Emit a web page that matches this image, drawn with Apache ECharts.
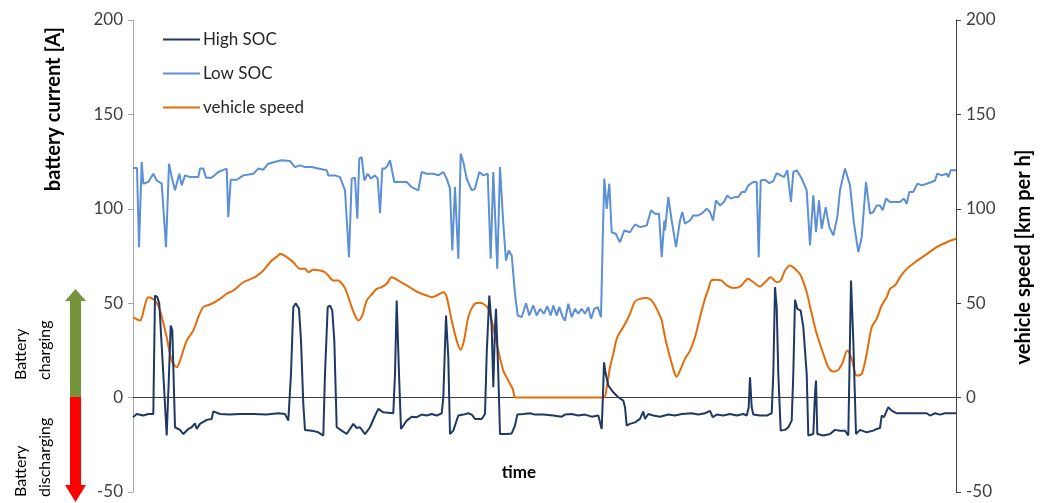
<!DOCTYPE html>
<html>
<head>
<meta charset="utf-8">
<script src="https://cdn.jsdelivr.net/npm/echarts@6/dist/echarts.min.js"></script>
<style>html,body{margin:0;padding:0;background:#fff}#c{width:1043px;height:503px}</style>
</head>
<body>
<div id="c"></div>
<script>
// ---- data (time in arbitrary units) ----
const seriesNames = ['High SOC', 'Low SOC', 'vehicle speed'];
const currentTicks = [-50, 0, 50, 100, 150, 200];

const highSocTime = [0,3.7,10.3,15.3,20.3,22,24.3,26.3,28,30.3,33.7,36,37.7,39.3,42,47,50.3,55.3,58.7,62,63.7,67,73.7,78.7,80.3,87,97,107,120.3,133.7,145.3,152,155.3,158,160.3,162.7,166,168,170.3,172,178.7,185.3,190.3,192,194.7,197,199.3,201.3,203.7,208.7,213.7,220.3,223.7,227,232,237,241.3,245.3,250.3,260.3,262,263.7,266,268,273.7,278.7,283.7,288.7,293.7,298.7,303.7,308.7,310.3,313,315.3,317,320.3,325.3,330.3,335.3,338.7,342,348.7,352,353.7,356.3,358.7,360.3,362,363,365.3,367,373.7,378.7,382,384.3,390.3,397,402,410.3,420.3,428.7,432,438.7,445.3,452,458.7,465.3,467.3,468.7,470,471,472.7,475.3,480.3,485.3,490.3,492,493.7,497,502,507,510.3,512,515.3,520.3,527,535.3,542,548.7,558.7,565.3,572,577,579.7,583.7,590.3,597,603.7,610.3,613.7,615.7,617,618.7,620.3,627,633.7,638.7,640.3,642,643.7,645.3,647.7,652,655.3,658.7,660.3,662,664.3,667.7,670.3,673.7,675.3,680.3,682,683,684.3,690.3,697,702,707,712,715.3,718,720.3,723,727,733.7,740.3,743.7,747,748.7,751,753,755.3,758.7,763.7,773.7,783.7,793.7,797,802,807,812,823];
const highSocValue = [-10.4,-8.7,-9.5,-8.7,-8.7,54.1,53.2,49.7,49.7,12.6,-20.1,12.6,38.2,35.5,-15.7,-17.1,-19.3,-16.6,-15.7,-13.6,-16.6,-13.9,-11.8,-11.3,-7.3,-8.7,-9,-8.7,-8.7,-9,-8.3,-8.7,-12.2,12.6,47.9,50,47,30.2,-3.4,-17.1,-17.5,-18.4,-20.1,12.6,47.9,48.8,46.1,30.2,-15.7,-17.5,-19.3,-13.9,-16.1,-15.7,-19.3,-15.7,-10.4,-6,-7.8,-8.3,12.6,51.4,12.6,-16.6,-12.2,-10.1,-10.4,-9,-9.5,-8.7,-9.5,-8.3,0,43.5,21.4,-19.3,-17.5,-9.5,-9,-8.3,-9,-11.3,-11.3,-8.7,23.2,54.1,37.3,5.5,37.3,47,12.6,-19.3,-19.3,-19,-14.8,-9,-8.7,-8.3,-9,-9,-9.5,-10.1,-9,-8.7,-9.5,-9,-10.1,-9.5,-10.4,-16.6,1.9,18.7,12.6,6.4,2.8,0.2,-1.6,-5.1,-14.8,-13.9,-13.1,-11.3,-7.3,-11.3,-8.7,-9.5,-10.1,-9,-9.5,-8.7,-8.3,-9,-8.3,-7,-10.4,-9,-9.5,-8.7,-9.5,-8.7,-9.5,-5.1,10.8,-5.1,-9,-9.5,-9.5,-8.3,12.6,58.5,47.9,12.6,-17.5,-17.1,-15.7,-12.2,12.6,51.8,47,46.1,37.3,12.6,-20.1,-19.3,1.9,9,-19.3,-20.1,-19.3,-17.1,-17.5,-17.5,-20.1,62,30.2,-19.3,-17.1,-18.4,-17.5,-16.6,-16.1,-9.5,-10.4,-7.8,-5.1,-6.9,-8.3,-8.3,-8.3,-8.3,-9.5,-8.3,-9,-8.3,-8.3];

const lowSocTime = [0,4,6,8.7,10.3,15.3,20.3,23.7,28.7,33,36,38.7,42,46.3,48.7,52,57,65.3,67,70.3,73,78.7,85.3,93.7,95.3,97.7,103.7,110.3,120.3,125.3,130.3,135.3,145.3,148.7,157,162,167,172,178.7,185.3,193.7,195.3,202,207,212,216,218.7,222,224.3,226.3,228.7,231.3,234.7,238,242,244.7,247,249.3,252,254.7,257,261.3,267,273.7,278.7,285.3,288.7,293.7,300.3,305.3,310.3,313.7,317,319.3,322,325.3,327.7,330.3,333.7,338.7,342,346.3,350.3,354.7,357.7,360.3,364.3,367,370.3,373,375.7,378.7,382,384.7,388.7,393,396.3,400.3,403.7,407,411,414.3,417.7,420.3,423.7,426.3,429.7,432,435.3,438.7,442,445.3,448.7,452,455.3,458,461.3,464.7,468,469.7,471.3,473.7,476.3,478.7,482.7,487,491.3,497,502,507,513.7,518,522,526,528.7,531.3,532,535.3,538.7,543,547,549.3,552,557,560.3,565.3,569.3,573.7,577,580,583,587,591,594.3,597.7,602,605.3,608.7,612,615.3,620.3,623.7,625.7,627.7,632,636.3,640.3,643.7,647.7,651,654.3,656,658,660.3,663.7,668.7,673.7,677,680.3,683,686,688.7,692.7,696.3,700.3,704.3,707,712,717,721,725.3,728.7,733,737,740.3,743.7,747,749.7,753,757,762,767,771,773.7,776.3,780.3,784.3,788.7,793.7,798.7,802,804.3,808.7,813.7,815.3,817.7,823];
const lowSocValue = [121.6,121.6,79.7,124.8,113.3,114.2,118.6,115,113.3,79.7,123.9,116.8,109.8,118.6,112.4,117.7,116.8,116.8,121.3,121.3,116.5,116.5,119.5,121.3,95.6,115.4,115.4,117.7,118.6,121.3,120.7,123.9,125.3,125.7,125.3,122.1,123,122.1,122.1,121.3,120.4,117.7,117.7,116.8,109.8,74.4,116,116.5,94.7,126.6,127.4,115,118.6,116,117.7,116,97.7,121.3,121.3,123,125.7,114.2,114.2,114.2,111.5,109.8,119.5,118.6,118.6,117.7,119.5,116,110.7,77.9,111.5,73.5,129.2,124.8,116,109.8,110.7,119.5,117.7,118.6,73.5,119.5,68.2,122.1,92.1,72.6,77.9,75.3,55,43.5,42.6,50,43.5,48.8,43.5,47,44.4,48.4,43.5,48.8,43.5,47.9,42.6,40.8,49.7,42.6,47,44.4,47,44.4,47.9,41.7,47,47.9,42.6,83.2,116,100,113.3,87.6,86.8,82.3,88.5,87.6,91.7,90.3,91.2,99.2,97.4,97.4,74.4,93.8,88.5,106.2,93.8,79.7,93.8,98.3,92.1,93.8,96.5,96.5,97.7,100,98.3,93.8,104.5,101.8,103.6,107.1,105.4,106.2,106.2,108.9,108.9,112.4,114.2,114.2,74.4,115,115.4,113.6,114.7,118.9,117.7,116.8,120.4,120.4,103.6,119.5,120.4,116,109.8,80.6,107.1,87.6,104.5,89.4,100.9,90.3,85.9,95.6,109.8,121.3,112.4,92.1,77,85,114.2,97.4,98.3,101.8,101.8,99.2,105.4,103.6,103.6,103.6,105.4,102.7,108.9,108.9,113.3,112.4,113.3,114.2,115,118.6,117.7,118.6,116.8,120.4,120.4];

const speedTime = [0,7,11,15.3,22,27,33.7,38.7,43.7,47,53.7,60.3,65.3,70.3,78.7,87,93.7,100.3,110.3,122,130.3,138.7,145.3,147,153.7,160.3,167,172,175.3,180.3,187,192,195.3,200.3,205.3,210.3,213.7,218.7,222,225.3,229.3,233.7,239.3,243.7,248.7,253.7,258.7,265.3,273.7,282,288.7,293.7,298.7,303.7,310.3,313.7,318.7,323.7,327.7,331,335.3,340.3,345.3,350.3,355.3,360.3,365.3,370.3,375.3,379.7,383,470.3,473.7,477,480.3,483.7,487,492,497,502,507,513.7,518.7,523.7,528.7,532,537,541.3,543.7,547,552,557,562,567,572,576,578,582,588.7,593.7,600.3,607,615.3,620.3,627,632,637.7,643.7,647.7,652,657,662,667.7,673.7,678.7,683.7,690.3,695.3,700.3,705.3,709.7,714.3,718.7,723.7,728.7,733.7,738.7,743.7,748.7,753.7,757,762,767,773.7,782,792,803.7,813.7,823];
const speedValue = [42.6,40.8,47,53.2,51.4,46.1,32,19.6,16.1,19.6,30.2,35.5,42.6,47.9,49.7,52.3,55,56.7,61.1,63.8,67.3,72.6,75.3,76.2,74.4,71.7,68.2,68.2,66.4,67.7,67.3,66.4,64.7,62,62,59.4,55.8,47.9,43.5,40.8,43.5,51.4,55,57.6,58.5,60.3,63.8,62,59.4,56.7,55,54.1,53.2,54.1,55.8,53.2,40.8,30.2,25.3,30.2,42.6,48.8,50.2,49.7,47,37.3,24.9,14.3,9,4.6,0,0,5.5,16.1,23.2,31.1,34.6,39,44.4,50.9,52.3,52.7,51.4,47,40.8,32,21.4,13.4,11.1,14.3,20.5,24.9,32,42.6,52.3,58.5,62,62.4,62,59.4,58.1,58.8,62.9,61.1,58.8,61.1,63.8,61.1,62,67.3,70,68.2,64.7,55.8,44.4,33.8,23.2,16.1,13.8,14.7,18.7,24.9,20.5,11.7,12.6,23.2,37.3,41.7,48.8,53.2,57.6,59.4,63.8,68.2,71.7,75.3,79.7,82.3,84.1];

// ---- chart ----
const FONT = 'Lato, "Open Sans", "Noto Sans", sans-serif';
const pair = (ts, vs) => ts.map((t, i) => [t, vs[i]]);
const chart = echarts.init(document.getElementById('c'), null, {renderer: 'canvas'});

function yAxisCfg(lineColor, pos) {
  return {
    type: 'value', position: pos, min: currentTicks[0], max: currentTicks[currentTicks.length - 1], interval: 50,
    axisLine: {show: true, lineStyle: {color: lineColor, width: 1}},
    axisTick: {show: true, length: 5, lineStyle: {color: lineColor}},
    axisLabel: {color: '#404040', fontSize: 17, fontFamily: FONT, margin: 10},
    splitLine: {show: false}
  };
}

chart.setOption({
  animation: false,
  backgroundColor: '#fff',
  grid: {left: 133, right: 87, top: 20, bottom: 11, containLabel: false},
  legend: {
    orient: 'vertical', left: 163, top: 30, padding: 0, itemWidth: 37, itemHeight: 2, itemGap: 15, icon: 'rect',
    data: seriesNames,
    textStyle: {color: '#262626', fontSize: 17, fontFamily: FONT, padding: [0, 0, 0, -2], lineHeight: 19}
  },
  xAxis: {
    type: 'value', min: 0, max: 823,
    axisLine: {show: true, onZero: true, lineStyle: {color: '#404040', width: 1}},
    axisTick: {show: false}, axisLabel: {show: false}, splitLine: {show: false}
  },
  yAxis: [yAxisCfg('#a6a6a6', 'left'), yAxisCfg('#404040', 'right')],
  series: [
    {name: seriesNames[0], type: 'line', yAxisIndex: 0, data: pair(highSocTime, highSocValue),
     symbol: 'none', lineStyle: {color: '#1f3864', width: 2}, itemStyle: {color: '#1f3864'}, z: 4},
    {name: seriesNames[1], type: 'line', yAxisIndex: 0, data: pair(lowSocTime, lowSocValue),
     symbol: 'none', lineStyle: {color: '#5b8fd6', width: 2}, itemStyle: {color: '#5b8fd6'}, z: 3},
    {name: seriesNames[2], type: 'line', yAxisIndex: 1, data: pair(speedTime, speedValue),
     symbol: 'none', smooth: 0.3, lineStyle: {color: '#e46c0a', width: 2}, itemStyle: {color: '#e46c0a'}, z: 3}
  ],
  graphic: [
    {type: 'text', x: 54, y: 109, rotation: Math.PI / 2,
     style: {text: 'battery current [A]', fontSize: 20, fontWeight: 'bold', fontFamily: FONT, fill: '#000', align: 'center', verticalAlign: 'middle'}},
    {type: 'text', x: 1024, y: 257, rotation: Math.PI / 2,
     style: {text: 'vehicle speed [km per h]', fontSize: 20, fontWeight: 'bold', fontFamily: FONT, fill: '#000', align: 'center', verticalAlign: 'middle'}},
    {type: 'text', x: 519, y: 473,
     style: {text: 'time', fontSize: 17, fontWeight: 'bold', fontFamily: FONT, fill: '#000', align: 'center', verticalAlign: 'middle'}},
    {type: 'polygon', shape: {points: [[70,397],[70,301],[65,301],[75.5,289],[86,301],[81,301],[81,397]]}, style: {fill: '#77933c'}},
    {type: 'polygon', shape: {points: [[70,397],[81,397],[81,485],[86,485],[75.5,502],[65,485],[70,485]]}, style: {fill: '#ff0000'}},
    {type: 'text', x: 33, y: 380, rotation: Math.PI / 2,
     style: {text: 'Battery\ncharging', fontSize: 16, lineHeight: 24, fontFamily: FONT, fill: '#000', align: 'left', verticalAlign: 'middle'}},
    {type: 'text', x: 33, y: 497, rotation: Math.PI / 2,
     style: {text: 'Battery\ndischarging', fontSize: 16, lineHeight: 24, fontFamily: FONT, fill: '#000', align: 'left', verticalAlign: 'middle'}}
  ]
});
</script>
</body>
</html>
